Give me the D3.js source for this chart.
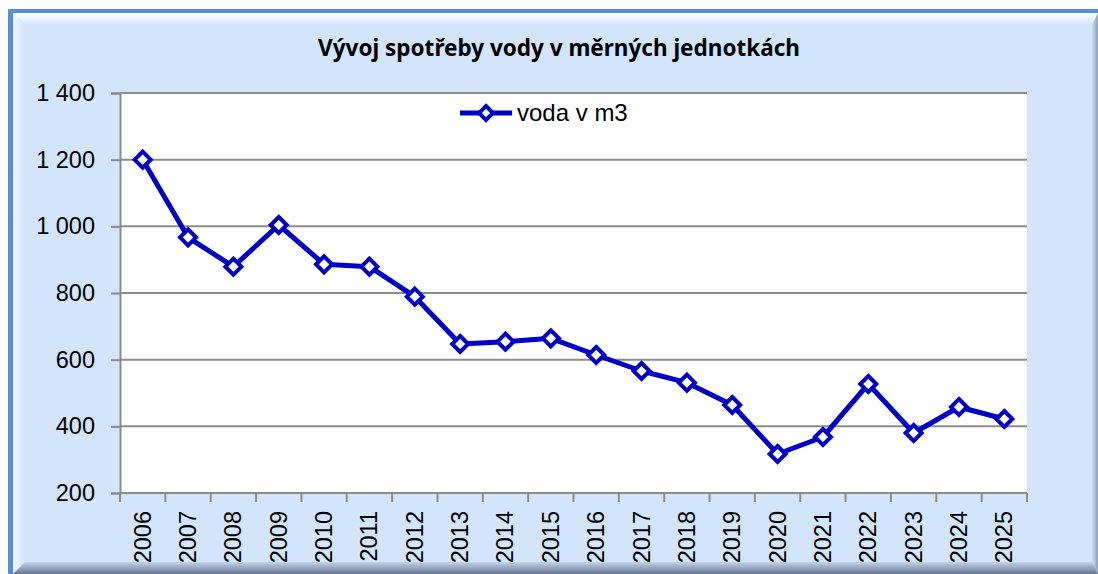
<!DOCTYPE html>
<html>
<head>
<meta charset="utf-8">
<script src="https://cdn.jsdelivr.net/npm/d3@7"></script>
<style>
  html, body { margin: 0; padding: 0; background: #fff; }
  svg { display: block; }
</style>
</head>
<body>
<div id="chart"></div>
<script>
// ─── Data ───────────────────────────────────────
const years  = ['2006','2007','2008','2009','2010','2011','2012','2013','2014','2015',
                '2016','2017','2018','2019','2020','2021','2022','2023','2024','2025'];
const voda   = [1200, 967, 879, 1004, 886, 879, 789, 647, 654, 664,
                614, 566, 531, 464, 317, 368, 527, 380, 458, 422];
const yTicks = [200, 400, 600, 800, 1000, 1200, 1400];
const title  = 'Vývoj spotřeby vody v měrných jednotkách';
const seriesName = 'voda v m3';

// ─── Layout ─────────────────────────────────────
const W = 1098, H = 574;
const plot = { left: 120, right: 1027, top: 93, bottom: 493 };
const blue = '#0000c8';

const svg = d3.select('#chart').append('svg').attr('width', W).attr('height', H);
const defs = svg.append('defs');

// bevel gradients for the chart frame
const gTop = defs.append('linearGradient').attr('id', 'bTop').attr('x1', 0).attr('y1', 0).attr('x2', 0).attr('y2', 1);
gTop.append('stop').attr('offset', 0).attr('stop-color', '#ffffff');
gTop.append('stop').attr('offset', 1).attr('stop-color', '#d3e5fb');
const gBot = defs.append('linearGradient').attr('id', 'bBot').attr('x1', 0).attr('y1', 0).attr('x2', 0).attr('y2', 1);
gBot.append('stop').attr('offset', 0).attr('stop-color', '#c3d5ec');
gBot.append('stop').attr('offset', 1).attr('stop-color', '#66768f');
const gLeft = defs.append('linearGradient').attr('id', 'bLeft').attr('x1', 0).attr('y1', 0).attr('x2', 1).attr('y2', 0);
gLeft.append('stop').attr('offset', 0).attr('stop-color', '#f2f7fe');
gLeft.append('stop').attr('offset', 1).attr('stop-color', '#d3e5fb');
const gRight = defs.append('linearGradient').attr('id', 'bRight').attr('x1', 0).attr('y1', 0).attr('x2', 1).attr('y2', 0);
gRight.append('stop').attr('offset', 0).attr('stop-color', '#cadcf2');
gRight.append('stop').attr('offset', 1).attr('stop-color', '#8ea1bd');

// ─── Frame ──────────────────────────────────────
const fx = 8, fy = 9;
svg.append('rect').attr('x', fx).attr('y', fy).attr('width', W - fx).attr('height', H - fy).attr('fill', '#5b8fd4');
const ix = fx + 5, iy = fy + 4, iw = W - ix, ih = H - iy;
svg.append('rect').attr('x', ix).attr('y', iy).attr('width', iw).attr('height', ih).attr('fill', '#d3e5fb');
const bv = 12;
svg.append('polygon').attr('fill', 'url(#bTop)')
  .attr('points', `${ix},${iy} ${W},${iy} ${W - 6},${iy + bv} ${ix + bv},${iy + bv}`);
svg.append('polygon').attr('fill', 'url(#bLeft)')
  .attr('points', `${ix},${iy} ${ix + bv},${iy + bv} ${ix + bv},${H - bv} ${ix},${H}`);
svg.append('polygon').attr('fill', 'url(#bRight)')
  .attr('points', `${W - 6},${iy + bv} ${W},${iy} ${W},${H} ${W - 6},${H - bv}`);
svg.append('polygon').attr('fill', 'url(#bBot)')
  .attr('points', `${ix + bv},${H - bv} ${W - 6},${H - bv} ${W},${H} ${ix},${H}`);

// ─── Title ──────────────────────────────────────
svg.append('text')
  .attr('x', 559).attr('y', 56)
  .attr('text-anchor', 'middle')
  .style('font-family', '"Noto Sans", "Open Sans", sans-serif')
  .style('font-weight', 'bold')
  .style('font-size', '22.5px')
  .attr('fill', '#000')
  .text(title);

// ─── Scales ─────────────────────────────────────
const x = d3.scaleBand().domain(years).range([plot.left, plot.right]);
const y = d3.scaleLinear().domain([200, 1400]).range([plot.bottom, plot.top]);

// plot area
svg.append('rect')
  .attr('x', plot.left).attr('y', plot.top)
  .attr('width', plot.right - plot.left).attr('height', plot.bottom - plot.top)
  .attr('fill', '#fff');

// gridlines
svg.append('g').selectAll('line')
  .data(yTicks.filter(t => t > 200))
  .join('line')
  .attr('x1', plot.left).attr('x2', plot.right)
  .attr('y1', d => y(d)).attr('y2', d => y(d))
  .attr('stroke', '#8c8c8c').attr('stroke-width', 2);

// y axis
const yAxis = svg.append('g')
  .attr('transform', `translate(${plot.left},0)`)
  .call(d3.axisLeft(y).tickValues(yTicks).tickSize(9).tickPadding(16)
        .tickFormat(d => d3.format(',')(d).replace(',', ' ')));
yAxis.select('.domain').attr('stroke', '#8c8c8c').attr('stroke-width', 2);
yAxis.selectAll('.tick line').attr('stroke', '#8c8c8c').attr('stroke-width', 2);
yAxis.selectAll('.tick text')
  .style('font-family', '"Liberation Sans", Arial, sans-serif')
  .style('font-size', '23.5px').attr('fill', '#000');

// x axis: ticks between categories
const xg = svg.append('g').attr('transform', `translate(0,${plot.bottom})`);
xg.append('line')
  .attr('x1', plot.left).attr('x2', plot.right)
  .attr('stroke', '#8c8c8c').attr('stroke-width', 2);
const bounds = years.map(d => x(d)).concat([x(years[years.length - 1]) + x.bandwidth()]);
xg.selectAll('line.tk').data(bounds).join('line').attr('class', 'tk')
  .attr('x1', d => d).attr('x2', d => d).attr('y1', 0).attr('y2', 9)
  .attr('stroke', '#8c8c8c').attr('stroke-width', 2);
xg.selectAll('text').data(years).join('text')
  .attr('transform', d => `translate(${x(d) + x.bandwidth() / 2 + 8},18) rotate(-90)`)
  .attr('text-anchor', 'end')
  .style('font-family', '"Liberation Sans", Arial, sans-serif')
  .style('font-size', '23.5px').attr('fill', '#000')
  .text(d => d);

// ─── Series ─────────────────────────────────────
const cx = d => x(d) + x.bandwidth() / 2;
const line = d3.line().x((d, i) => cx(years[i])).y(d => y(d));
svg.append('path').datum(voda)
  .attr('d', line)
  .attr('fill', 'none').attr('stroke', blue).attr('stroke-width', 5)
  .attr('stroke-linejoin', 'round');

const diamond = 'M0,-8L8,0L0,8L-8,0Z';
svg.append('g').selectAll('path')
  .data(voda)
  .join('path')
  .attr('transform', (d, i) => `translate(${cx(years[i])},${y(d)})`)
  .attr('d', diamond)
  .attr('fill', '#fff').attr('stroke', blue).attr('stroke-width', 4);

// ─── Legend ─────────────────────────────────────
const lg = svg.append('g').attr('transform', 'translate(460,113)');
lg.append('line').attr('x1', 0).attr('x2', 52).attr('stroke', blue).attr('stroke-width', 5);
lg.append('path').attr('transform', 'translate(26,0)').attr('d', 'M0,-7L7,0L0,7L-7,0Z')
  .attr('fill', '#fff').attr('stroke', blue).attr('stroke-width', 4);
lg.append('text').attr('x', 57).attr('y', 8)
  .style('font-family', '"Liberation Sans", Arial, sans-serif')
  .style('font-size', '24px').attr('fill', '#000')
  .text(seriesName);
</script>
</body>
</html>
